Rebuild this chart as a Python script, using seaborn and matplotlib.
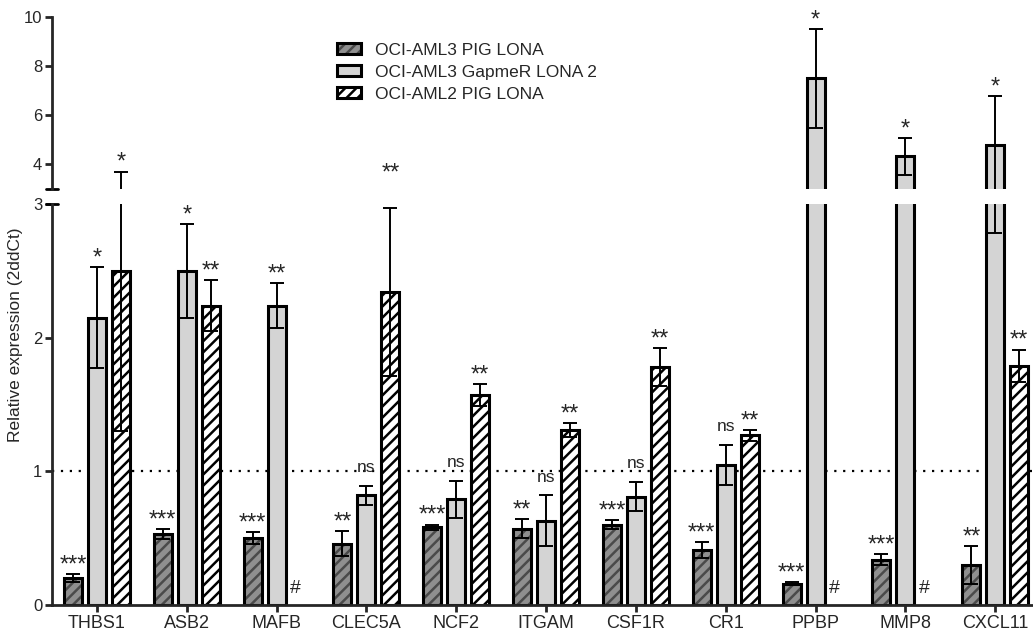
import numpy as np
import pandas as pd
import matplotlib.pyplot as plt
import seaborn as sns
from matplotlib.patches import Patch, Rectangle
import matplotlib.transforms as mtrans

# data
genes = ["THBS1", "ASB2", "MAFB", "CLEC5A", "NCF2", "ITGAM",
         "CSF1R", "CR1", "PPBP", "MMP8", "CXCL11"]
groups = ["OCI-AML3 PIG LONA", "OCI-AML3 GapmeR LONA 2", "OCI-AML2 PIG LONA"]

aml3_pig     = [0.20, 0.53, 0.50, 0.46, 0.58, 0.57, 0.60, 0.41, 0.16, 0.34, 0.30]
aml3_pig_err = [0.03, 0.035, 0.045, 0.09, 0.02, 0.07, 0.035, 0.06, 0.01, 0.04, 0.14]
aml3_gap     = [2.15, 2.50, 2.24, 0.82, 0.79, 0.63, 0.81, 1.05, 7.5, 4.33, 4.78]
aml3_gap_err = [0.38, 0.35, 0.17, 0.07, 0.14, 0.19, 0.11, 0.15, 2.0, 0.75, 2.0]
aml2_pig     = [2.50, 2.24, np.nan, 2.34, 1.57, 1.31, 1.78, 1.27, np.nan, np.nan, 1.79]
aml2_pig_err = [1.2, 0.19, np.nan, 0.63, 0.08, 0.05, 0.14, 0.04, np.nan, np.nan, 0.12]

aml3_pig_sig = ["***", "***", "***", "**", "***", "**", "***", "***", "***", "***", "**"]
aml3_gap_sig = ["*", "*", "**", "ns", "ns", "ns", "ns", "ns", "*", "*", "*"]
aml2_pig_sig = ["*", "**", "#", "**", "**", "**", "**", "**", "#", "#", "**"]

vals = [aml3_pig, aml3_gap, aml2_pig]
errs = [aml3_pig_err, aml3_gap_err, aml2_pig_err]
sigs = [aml3_pig_sig, aml3_gap_sig, aml2_pig_sig]

rows = []
for g, v in zip(groups, vals):
    for gene, val in zip(genes, v):
        rows.append({"gene": gene, "group": g, "value": val})
df = pd.DataFrame(rows).dropna(subset=["value"])

sns.set_style("ticks")
plt.rcParams["font.family"] = ["Liberation Sans", "DejaVu Sans"]
plt.rcParams["hatch.linewidth"] = 1.8

colors = ["#8f8f8f", "#d4d4d4", "white"]
hatches = ["///", "", "///"]

W, H = 1033, 634
fig = plt.figure(figsize=(W / 100, H / 100), dpi=100)
ax_lo = fig.add_axes([52 / W, 29 / H, 981 / W, 401 / H])
ax_hi = fig.add_axes([52 / W, 445 / H, 981 / W, 172 / H])
ax_hi.set_facecolor("none")

for ax in (ax_lo, ax_hi):
    sns.barplot(data=df, x="gene", y="value", hue="group", order=genes,
                hue_order=groups, palette=colors, width=0.8, gap=0.25,
                edgecolor="black", linewidth=2.2, errorbar=None,
                legend=False, ax=ax)
    ax.axhline(1, color="black", ls=(0, (1, 3)), lw=1.6, zorder=0.5)
    bar_conts = list(ax.containers)
    for ci, cont in enumerate(bar_conts):
        for bar in cont:
            x = bar.get_x() + bar.get_width() / 2
            gi = int(round(x))
            h = bar.get_height()
            bar.set_hatch(hatches[ci])
            if ci == 0:
                bar.set_edgecolor("#4a4a4a")
                bar.set_linewidth(0)
                ax.add_patch(Rectangle((bar.get_x(), 0), bar.get_width(), h,
                                       fill=False, edgecolor="black", lw=2.2, zorder=1.5))
            e = errs[ci][gi]
            top = h + e
            if ax is ax_lo or top > 3:
                ax.errorbar(x, h, yerr=e, color="black", capsize=5,
                            elinewidth=1.4, capthick=1.4, zorder=3)
            s = sigs[ci][gi]
            if s == "#" or ax is not ax_lo:
                continue
            fs, dy = (12.5, 10) if s == "ns" else (17, 2)
            if top > 3:
                ax_hi.annotate(s, xy=(x, top), xytext=(0, dy), textcoords="offset points",
                               ha="center", va="baseline", fontsize=fs,
                               annotation_clip=False)
            elif top > 2.85:
                # label sits just above the axis break
                ax_hi.annotate(s, xy=(x, 3), xytext=(0, 7), textcoords="offset points",
                               ha="center", va="baseline", fontsize=fs,
                               annotation_clip=False)
            else:
                ax_lo.annotate(s, xy=(x, top), xytext=(0, dy), textcoords="offset points",
                               ha="center", va="baseline", fontsize=fs,
                               annotation_clip=False)
    ax.set_xlim(-0.5, 10.42)
    ax.set_xlabel("")
    ax.set_ylabel("")
    ax.spines["top"].set_visible(False)
    ax.spines["right"].set_visible(False)
    ax.spines["left"].set_linewidth(2)
    ax.spines["bottom"].set_linewidth(2)
    ax.tick_params(axis="both", width=2, length=5, labelsize=12, pad=2)

# '#' marks for missing bars
for ci in range(3):
    for gi, s in enumerate(sigs[ci]):
        if s == "#":
            ax_lo.text(gi + 0.21, 0.09, "#", ha="center", va="baseline", fontsize=14)

ax_lo.set_ylim(0, 3)
ax_lo.set_yticks([0, 1, 2, 3])
ax_lo.set_xticks(range(len(genes)))
ax_lo.set_xticklabels(genes)
ax_lo.tick_params(axis="x", labelsize=13)

ax_hi.set_ylim(3, 10)
ax_hi.set_yticks([4, 6, 8, 10])
ax_hi.spines["bottom"].set_visible(False)
ax_hi.tick_params(axis="x", bottom=False, labelbottom=False)

# break marks on the y axis
for ax, yy in ((ax_lo, 1), (ax_hi, 0)):
    tr = mtrans.blended_transform_factory(ax.transAxes, ax.transAxes)
    ax.plot([-6 / 981, 6 / 981], [yy, yy], color="black", lw=2,
            transform=tr, clip_on=False)

fig.text(16 / W, 1 - 335 / H, "Relative expression (2ddCt)", rotation=90,
         ha="center", va="center", fontsize=12.5)

handles = [
    (Patch(facecolor=colors[0], edgecolor="#4a4a4a", hatch="///", lw=0),
     Patch(fill=False, edgecolor="black", lw=2.2)),
    Patch(facecolor=colors[1], edgecolor="black", lw=2.2),
    Patch(facecolor=colors[2], edgecolor="black", hatch="///", lw=2.2),
]
fig.legend(handles, groups, loc="upper left", bbox_to_anchor=(330 / W, 1 - 36 / H),
           frameon=False, fontsize=12.5, handlelength=1.4, handleheight=0.6,
           labelspacing=0.4, handletextpad=0.8, borderaxespad=0)

fig.savefig("out.png", dpi=100)
